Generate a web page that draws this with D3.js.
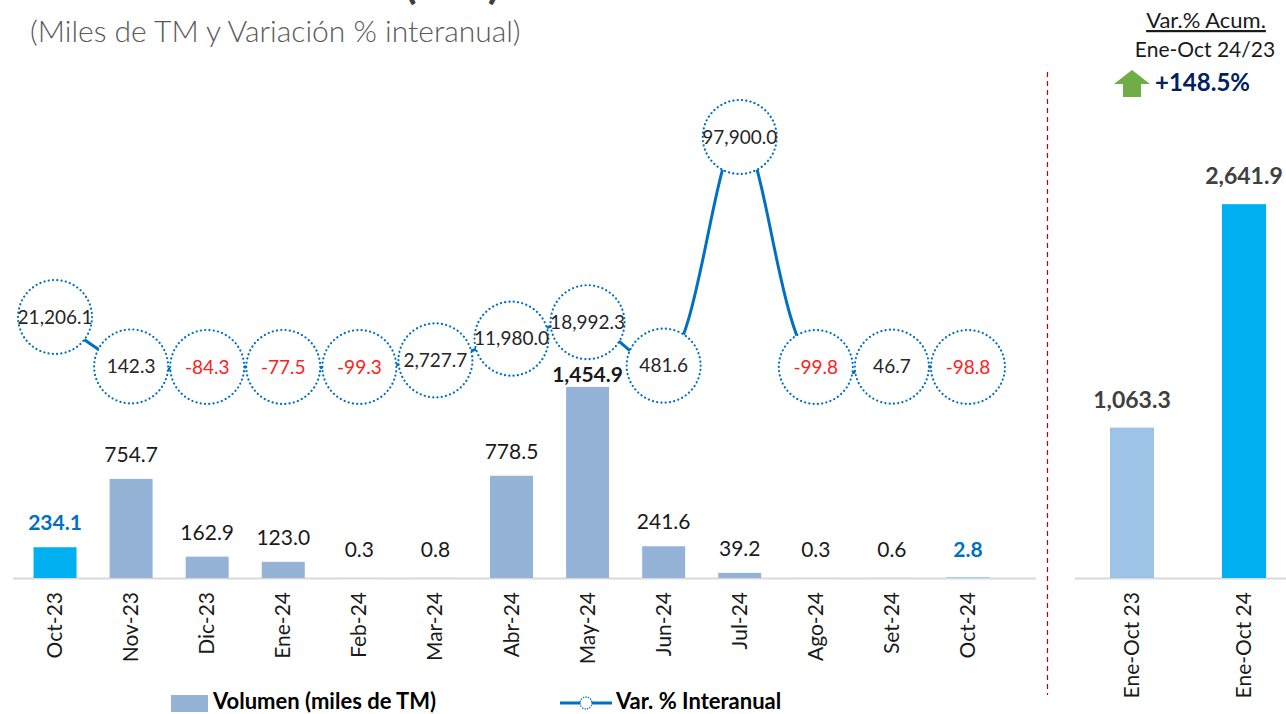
<!DOCTYPE html>
<html>
<head>
<meta charset="utf-8">
<script src="https://cdnjs.cloudflare.com/ajax/libs/d3/7.8.5/d3.min.js"></script>
<style>
  body { margin: 0; background: #fff; }
  svg { display: block; font-family: Lato, "Open Sans", sans-serif; }
</style>
</head>
<body>
<div id="chart"></div>
<script>
var meses = ["Oct-23", "Nov-23", "Dic-23", "Ene-24", "Feb-24", "Mar-24", "Abr-24",
             "May-24", "Jun-24", "Jul-24", "Ago-24", "Set-24", "Oct-24"];
var volumen = [234.1, 754.7, 162.9, 123.0, 0.3, 0.8, 778.5, 1454.9, 241.6, 39.2, 0.3, 0.6, 2.8];
var varInteranual = [21206.1, 142.3, -84.3, -77.5, -99.3, 2727.7, 11980.0, 18992.3, 481.6,
                     97900.0, -99.8, 46.7, -98.8];
var acumCats = ["Ene-Oct 23", "Ene-Oct 24"];
var acumVals = [1063.3, 2641.9];
var acumVar = 148.5;

var W = 1286, H = 714;
var svg = d3.select("#chart").append("svg").attr("width", W).attr("height", H);

var fmt = d3.formatLocale({ decimal: ".", thousands: ",", grouping: [3], currency: ["", ""], minus: "-" }).format(",.1f");
var base = 578;

// titulo (cortado arriba)
svg.append("text").attr("x", 404).attr("y", -2)
    .style("font-size", "46px").style("font-weight", "700").style("fill", "#404040")
    .text("(TM)");
svg.append("text").attr("x", 30).attr("y", 42)
    .style("font-size", "30px").style("font-weight", "300").style("fill", "#595959")
    .text("(Miles de TM y Variación % interanual)");

// escalas
var x = d3.scaleBand().domain(meses).range([17, 1006]).paddingInner(0.435).paddingOuter(0.2175);
var y = d3.scaleLinear().domain([0, 1500]).range([base, base - 197]);
var y2 = d3.scaleLinear().domain([-100, 97900]).range([367, 137]);

svg.append("line").attr("x1", 13).attr("x2", 1036).attr("y1", base + 0.5).attr("y2", base + 0.5)
    .style("stroke", "#d9d9d9").style("stroke-width", 2);

var last = meses.length - 1;
svg.selectAll("rect.vol").data(volumen).enter().append("rect").attr("class", "vol")
    .attr("x", function (d, i) { return x(meses[i]); })
    .attr("y", function (d) { return y(d); })
    .attr("width", x.bandwidth())
    .attr("height", function (d) { return base - y(d); })
    .style("fill", function (d, i) { return (i == 0 || i == last) ? "#00B0F0" : "#95B3D7"; });

// etiquetas eje x
svg.selectAll("text.mes").data(meses).enter().append("text").attr("class", "mes")
    .attr("transform", function (d) { return "translate(" + (x(d) + x.bandwidth() / 2 + 7) + "," + (base + 14) + ") rotate(-90)"; })
    .attr("text-anchor", "end")
    .style("font-size", "21px").style("fill", "#1a1a1a")
    .text(function (d) { return d; });

// linea var %
var line = d3.line()
    .x(function (d, i) { return x(meses[i]) + x.bandwidth() / 2; })
    .y(function (d) { return y2(d); })
    .curve(d3.curveCatmullRom.alpha(0.5));

svg.append("path").datum(varInteranual).attr("d", line)
    .style("fill", "none").style("stroke", "#0070C0").style("stroke-width", 3);

var pts = svg.selectAll("g.pt").data(varInteranual).enter().append("g").attr("class", "pt")
    .attr("transform", function (d, i) { return "translate(" + (x(meses[i]) + x.bandwidth() / 2) + "," + y2(d) + ")"; });
pts.append("circle").attr("r", 37)
    .style("fill", "#fff").style("stroke", "#0070C0").style("stroke-width", 2.2)
    .style("stroke-dasharray", "0.1,4.2").style("stroke-linecap", "round");
pts.append("text").attr("text-anchor", "middle").attr("dy", "0.35em")
    .style("font-size", "19px")
    .style("fill", function (d) { return d < 0 ? "#FF2020" : "#262626"; })
    .text(function (d) { return fmt(d); });

// etiquetas de volumen (encima de los circulos)
svg.selectAll("text.vol").data(volumen).enter().append("text").attr("class", "vol")
    .attr("x", function (d, i) { return x(meses[i]) + x.bandwidth() / 2; })
    .attr("y", function (d, i) { return Math.min(y(d), base - 4) - (i == 7 ? 5 : 17); })
    .attr("text-anchor", "middle")
    .style("font-size", "21px")
    .style("font-weight", function (d, i) { return (i == 0 || i == last || i == 7) ? "700" : "400"; })
    .style("fill", function (d, i) { return (i == 0 || i == last) ? "#0070C0" : "#1a1a1a"; })
    .text(function (d) { return fmt(d); });

// separador
svg.append("line").attr("x1", 1047.5).attr("x2", 1047.5).attr("y1", 72).attr("y2", 695)
    .style("stroke", "#C00000").style("stroke-width", 1.2).style("stroke-dasharray", "5,4");

// acumulado
var xa = d3.scaleBand().domain(acumCats).range([1076, 1300]).paddingInner(0.607).paddingOuter(0.3035);
var ya = d3.scaleLinear().domain([0, 3000]).range([base, base - 424.5]);

svg.append("line").attr("x1", 1075).attr("x2", 1286).attr("y1", base + 0.5).attr("y2", base + 0.5)
    .style("stroke", "#d9d9d9").style("stroke-width", 2);

svg.selectAll("rect.acum").data(acumVals).enter().append("rect").attr("class", "acum")
    .attr("x", function (d, i) { return xa(acumCats[i]); })
    .attr("y", function (d) { return ya(d); })
    .attr("width", xa.bandwidth())
    .attr("height", function (d) { return base - ya(d); })
    .style("fill", function (d, i) { return i == 1 ? "#00B0F0" : "#9DC3E6"; });

svg.selectAll("text.acum").data(acumVals).enter().append("text").attr("class", "acum")
    .attr("x", function (d, i) { return xa(acumCats[i]) + xa.bandwidth() / 2; })
    .attr("y", function (d) { return ya(d) - 20; })
    .attr("text-anchor", "middle")
    .style("font-size", "23px").style("font-weight", "700").style("fill", "#404040")
    .text(function (d) { return fmt(d); });

svg.selectAll("text.acumcat").data(acumCats).enter().append("text").attr("class", "acumcat")
    .attr("transform", function (d) { return "translate(" + (xa(d) + xa.bandwidth() / 2 + 7) + "," + (base + 14) + ") rotate(-90)"; })
    .attr("text-anchor", "end")
    .style("font-size", "21px").style("fill", "#1a1a1a")
    .text(function (d) { return d; });

// cuadro var acumulada
svg.append("text").attr("x", 1206).attr("y", 28).attr("text-anchor", "middle")
    .style("font-size", "22px").style("fill", "#1a1a1a").style("text-decoration", "underline")
    .text("Var.% Acum.");
svg.append("text").attr("x", 1205).attr("y", 57).attr("text-anchor", "middle")
    .style("font-size", "21px").style("fill", "#1a1a1a")
    .text("Ene-Oct 24/23");
svg.append("path")
    .attr("d", "M1132,70 L1150,84 L1141,84 L1141,97 L1123,97 L1123,84 L1114,84 Z")
    .style("fill", "#70AD47");
svg.append("text").attr("x", 1155).attr("y", 91)
    .style("font-size", "24px").style("font-weight", "700").style("fill", "#002060")
    .text("+" + acumVar.toFixed(1) + "%");

// leyenda
svg.append("rect").attr("x", 171).attr("y", 695).attr("width", 37).attr("height", 17).style("fill", "#95B3D7");
svg.append("text").attr("x", 213).attr("y", 709)
    .style("font-size", "22px").style("font-weight", "700").style("fill", "#000")
    .text("Volumen (miles de TM)");
svg.append("line").attr("x1", 560).attr("x2", 612).attr("y1", 703).attr("y2", 703)
    .style("stroke", "#0070C0").style("stroke-width", 3);
svg.append("circle").attr("cx", 586).attr("cy", 703).attr("r", 6)
    .style("fill", "#fff").style("stroke", "#0070C0").style("stroke-width", 1.5)
    .style("stroke-dasharray", "0.1,2.4").style("stroke-linecap", "round");
svg.append("text").attr("x", 616).attr("y", 709)
    .style("font-size", "22px").style("font-weight", "700").style("fill", "#000")
    .text("Var. % Interanual");
</script>
</body>
</html>
